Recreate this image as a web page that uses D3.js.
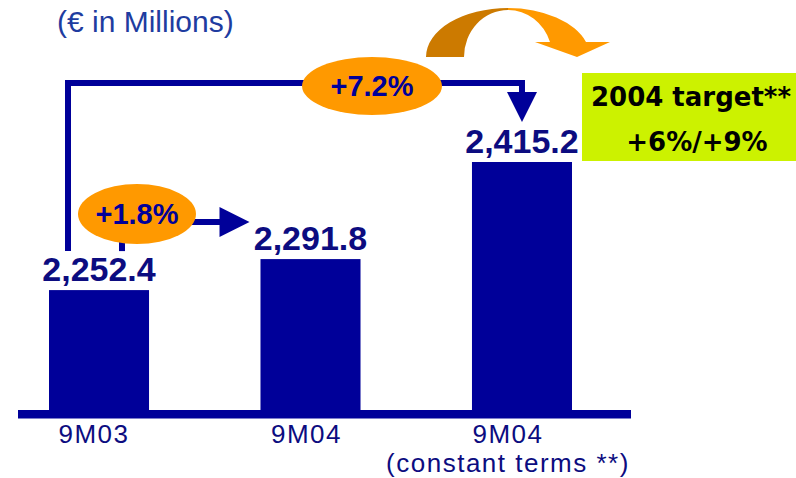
<!DOCTYPE html>
<html>
<head>
<meta charset="utf-8">
<script src="https://cdn.jsdelivr.net/npm/d3@7"></script>
<style>
  body { margin: 0; background: #fff; }
  svg { display: block; }
</style>
</head>
<body>
<svg id="chart" width="796" height="478"></svg>
<script>
// Net sales, first nine months (EUR millions)
const periods = ["9M03", "9M04", "9M04 constant"];
const values = [2252.4, 2291.8, 2415.2];
const tickLabels = [["9M03"], ["9M04"], ["9M04", "(constant terms **)"]];
const growthLabels = ["+1.8%", "+7.2%"];
const targetLines = ["2004 target**", "+6%/+9%"];
const unitTitle = "(€ in Millions)";

const NAVY = "#000099";
const TEXT_NAVY = "#0c0c80";
const ORANGE = "#ff9900";
const ORANGE_DARK = "#cc7a00";
const LIME = "#ccf200";
const FONT = "'Liberation Sans', Arial, sans-serif";

const svg = d3.select("#chart");
const baseY = 410;

const x = d3.scaleBand()
  .domain(d3.range(periods.length))
  .range([49, 572])
  .paddingInner(0.527)
  .paddingOuter(0);

const y = d3.scaleLinear()
  .domain([2100, d3.max(values)])
  .range([baseY, 162]);

const bw = x.bandwidth();
const cx = i => x(i) + bw / 2;
const labelY = i => y(values[i]) - 9;
const fmt = d3.format(",.1f");

// Unit title
svg.append("text")
  .attr("x", 57).attr("y", 32)
  .attr("font-family", FONT).attr("font-size", 30)
  .attr("fill", "#1e3ca0")
  .text(unitTitle);

// Bars
svg.selectAll("rect.bar")
  .data(values)
  .join("rect")
  .attr("class", "bar")
  .attr("x", (d, i) => x(i))
  .attr("y", d => y(d))
  .attr("width", bw)
  .attr("height", d => baseY - y(d))
  .attr("fill", NAVY);

// Thick baseline
svg.append("rect")
  .attr("x", 18).attr("y", baseY)
  .attr("width", 613).attr("height", 8.5)
  .attr("fill", NAVY);

// Category axis (tick labels sit slightly left of the bar centres)
const tickShift = [-5, -4, -14];
const axis = svg.append("g")
  .attr("transform", `translate(0,${baseY + 8})`)
  .call(d3.axisBottom(x).tickSize(0).tickPadding(9).tickFormat(i => tickLabels[i][0]));
axis.select(".domain").remove();
axis.selectAll(".tick text")
  .attr("font-family", FONT)
  .attr("font-size", 26)
  .attr("letter-spacing", 1.5)
  .attr("fill", TEXT_NAVY)
  .attr("y", null)
  .attr("dy", null)
  .each(function(i) {
    const t = d3.select(this);
    t.text(null);
    tickLabels[i].forEach((line, k) => {
      t.append("tspan")
        .attr("x", tickShift[i])
        .attr("y", 24.5 + 29.5 * k)
        .text(line);
    });
  });

// Value labels
svg.selectAll("text.value")
  .data(values)
  .join("text")
  .attr("class", "value")
  .attr("x", (d, i) => cx(i))
  .attr("y", (d, i) => labelY(i))
  .attr("text-anchor", "middle")
  .attr("font-family", FONT)
  .attr("font-weight", "bold")
  .attr("font-size", 34)
  .attr("fill", TEXT_NAVY)
  .text(d => fmt(d));

// Bracket linking 9M03 to 9M04 at constant terms
const bracketX = x(0) + 19;
const topY = 83;
const rightX = cx(2);
svg.append("path")
  .attr("d", `M${bracketX},${labelY(0) - 30} V${topY} H${rightX} V${topY + 10}`)
  .attr("fill", "none")
  .attr("stroke", NAVY)
  .attr("stroke-width", 6)
  .attr("stroke-linejoin", "miter");
svg.append("path")
  .attr("d", `M${rightX - 15},${topY + 9} L${rightX + 15},${topY + 9} L${rightX},${labelY(2) - 31} Z`)
  .attr("fill", NAVY);

// Arrow from 9M03 to 9M04
const e1 = { x: 137, y: labelY(1) - 36 };
const arrowY = labelY(1) - 28;
const headX = x(1) - 11;
svg.append("line")
  .attr("x1", 122).attr("x2", 122)
  .attr("y1", e1.y + 25).attr("y2", labelY(0) - 30)
  .attr("stroke", NAVY).attr("stroke-width", 6);
svg.append("line")
  .attr("x1", e1.x + 30).attr("x2", headX - 30 + 2)
  .attr("y1", arrowY).attr("y2", arrowY)
  .attr("stroke", NAVY).attr("stroke-width", 6);
svg.append("path")
  .attr("d", `M${headX - 30},${arrowY - 15} L${headX - 30},${arrowY + 15} L${headX},${arrowY} Z`)
  .attr("fill", NAVY);

// Growth ellipses
const ellipses = [
  { cx: e1.x, cy: e1.y, rx: 59, ry: 30 },
  { cx: 372, cy: 86, rx: 70, ry: 29 }
];
svg.selectAll("ellipse.growth")
  .data(ellipses)
  .join("ellipse")
  .attr("class", "growth")
  .attr("cx", d => d.cx).attr("cy", d => d.cy)
  .attr("rx", d => d.rx).attr("ry", d => d.ry)
  .attr("fill", ORANGE);
svg.selectAll("text.growth")
  .data(growthLabels)
  .join("text")
  .attr("class", "growth")
  .attr("x", (d, i) => ellipses[i].cx)
  .attr("y", (d, i) => ellipses[i].cy + 10)
  .attr("text-anchor", "middle")
  .attr("font-family", FONT)
  .attr("font-weight", "bold")
  .attr("font-size", 29)
  .attr("fill", NAVY)
  .text(d => d);

// Curved arrow towards the full-year target
svg.append("path")
  .attr("d", "M426,57 A82,49 0 0 1 508,8 L508,10 A44,47 0 0 0 464,57 Z")
  .attr("fill", ORANGE_DARK);
svg.append("path")
  .attr("d", "M508,8 A82,49 0 0 1 586,42 L610,42 L577,57 L535,42 L550,42 A44,47 0 0 0 508,10 Z")
  .attr("fill", ORANGE);

// Target box
svg.append("rect")
  .attr("x", 582).attr("y", 73)
  .attr("width", 214).attr("height", 88)
  .attr("fill", LIME);
svg.selectAll("text.target")
  .data(targetLines)
  .join("text")
  .attr("class", "target")
  .attr("x", (d, i) => i === 0 ? 691 : 697)
  .attr("y", (d, i) => 106 + i * 45)
  .attr("text-anchor", "middle")
  .attr("font-family", "'DejaVu Sans', sans-serif")
  .attr("font-weight", "bold")
  .attr("font-size", 26)
  .attr("fill", "#000")
  .text(d => d);
</script>
</body>
</html>
